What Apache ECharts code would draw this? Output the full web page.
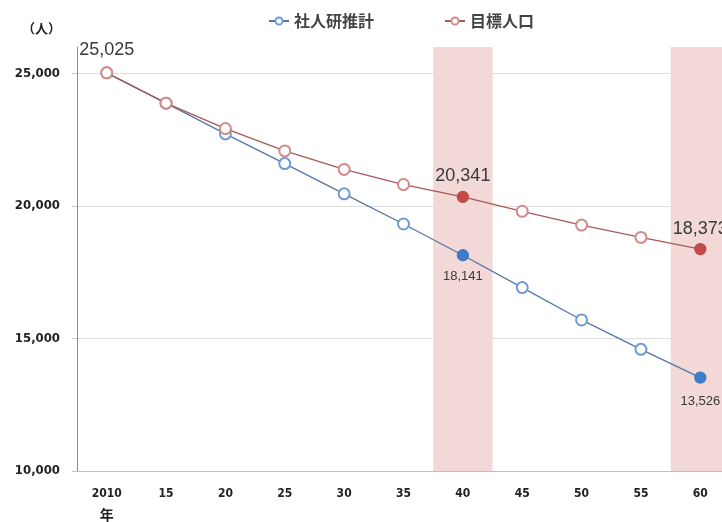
<!DOCTYPE html>
<html><head><meta charset="utf-8">
<script src="https://cdn.jsdelivr.net/npm/echarts@6/dist/echarts.min.js"></script>
<style>html,body{margin:0;padding:0;background:#fff}#c{width:722px;height:522px}</style>
</head><body><div id="c"></div>
<script>
const categories = ['2010','15','20','25','30','35','40','45','50','55','60'];
const ipssValues = [25025, 23880, 22720, 21600, 20460, 19320, 18141, 16920, 15700, 14590, 13526];
const targetValues = [25025, 23880, 22920, 22080, 21380, 20810, 20341, 19800, 19280, 18815, 18373];
const highlightIdx = [6, 10];
const yTicks = [10000, 15000, 20000, 25000];
const seriesNames = ['社人研推計', '目標人口'];

const FONT = '"DejaVu Sans Condensed","Liberation Sans",sans-serif';
const LFONT = '"Liberation Sans",sans-serif';
const CJK = '"Noto Sans CJK JP",sans-serif';
const BLUE_LINE = '#5577a8', BLUE_MK = '#6f9bd3', BLUE_FILL = '#3d7cc9';
const RED_LINE = '#a65a58', RED_MK = '#d38a88', RED_FILL = '#c24a48';

// label styling per labelled point: [index, position, fontSize, distance]
function pts(vals, fill, labels) {
  return vals.map((v, i) => {
    const o = { value: v };
    if (highlightIdx.includes(i)) { o.symbol = 'circle'; o.itemStyle = { color: fill, borderColor: fill }; }
    const l = labels.find(x => x[0] === i);
    if (l) {
      o.label = { show: true, position: l[1], fontSize: l[2], distance: l[3],
        color: '#3a3a3a', fontFamily: LFONT,
        formatter: p => p.value.toLocaleString('en-US') };
    }
    return o;
  });
}

const chart = echarts.init(document.getElementById('c'));
chart.setOption({
  animation: false,
  backgroundColor: '#fff',
  grid: { left: 77, width: 653, top: 47, height: 424, containLabel: false, outerBoundsMode: 'none' },
  legend: {
    left: 263, top: 8, itemGap: 70, itemWidth: 20, itemHeight: 9,
    textStyle: { fontSize: 16, fontWeight: 'bold', color: '#444', fontFamily: CJK },
    data: seriesNames
  },
  xAxis: {
    type: 'category', data: categories, boundaryGap: true,
    axisLine: { lineStyle: { color: '#bfbfbf', width: 1 } },
    axisTick: { show: false },
    axisLabel: { margin: 12, fontSize: 12, fontWeight: 'bold', color: '#222', fontFamily: FONT, lineHeight: 21,
      formatter: (v, i) => i === 0 ? v + '\n{c|年}' : v,
      rich: { c: { fontSize: 14, fontWeight: 'bold', fontFamily: CJK, color: '#222', lineHeight: 21 } } }
  },
  yAxis: [{
    type: 'value', min: 10000, max: 26000, interval: 5000,
    axisLine: { show: true, lineStyle: { color: '#8c8c8c' } },
    axisTick: { show: true, length: 5, lineStyle: { color: '#c8c8c8' } },
    axisLabel: { margin: 17, fontSize: 13, fontWeight: 'bold', color: '#222', fontFamily: FONT, showMaxLabel: false,
      formatter: v => yTicks.includes(v) ? v.toLocaleString('en-US') : '' },
    splitLine: { show: true, showMaxLine: false, lineStyle: { color: '#dedede' } }
  }, {
    type: 'value', min: 0, max: 1, show: false
  }],
  graphic: [{ type: 'text', left: 22, top: 22, style: { text: '（人）', fontSize: 13, fontWeight: 'bold', fill: '#222', fontFamily: CJK } }],
  series: [
    { type: 'bar', yAxisIndex: 1, barWidth: '100%', silent: true, z: 0,
      itemStyle: { color: '#f3d8d8' },
      data: categories.map((c, i) => highlightIdx.includes(i) ? 1 : null) },
    { name: seriesNames[0], type: 'line', z: 3, symbol: 'emptyCircle', symbolSize: 11,
      lineStyle: { color: BLUE_LINE, width: 1.3 },
      itemStyle: { color: BLUE_MK, borderColor: BLUE_MK, borderWidth: 1.3 },
      data: pts(ipssValues, BLUE_FILL, [[6, 'bottom', 13, 9], [10, 'bottom', 13, 11]]) },
    { name: seriesNames[1], type: 'line', z: 4, symbol: 'emptyCircle', symbolSize: 11,
      lineStyle: { color: RED_LINE, width: 1.3 },
      itemStyle: { color: RED_MK, borderColor: RED_MK, borderWidth: 1.3 },
      data: pts(targetValues, RED_FILL, [[0, 'top', 18, 7], [6, 'top', 18, 6], [10, 'top', 18, 5]]) }
  ]
});
</script></body></html>
